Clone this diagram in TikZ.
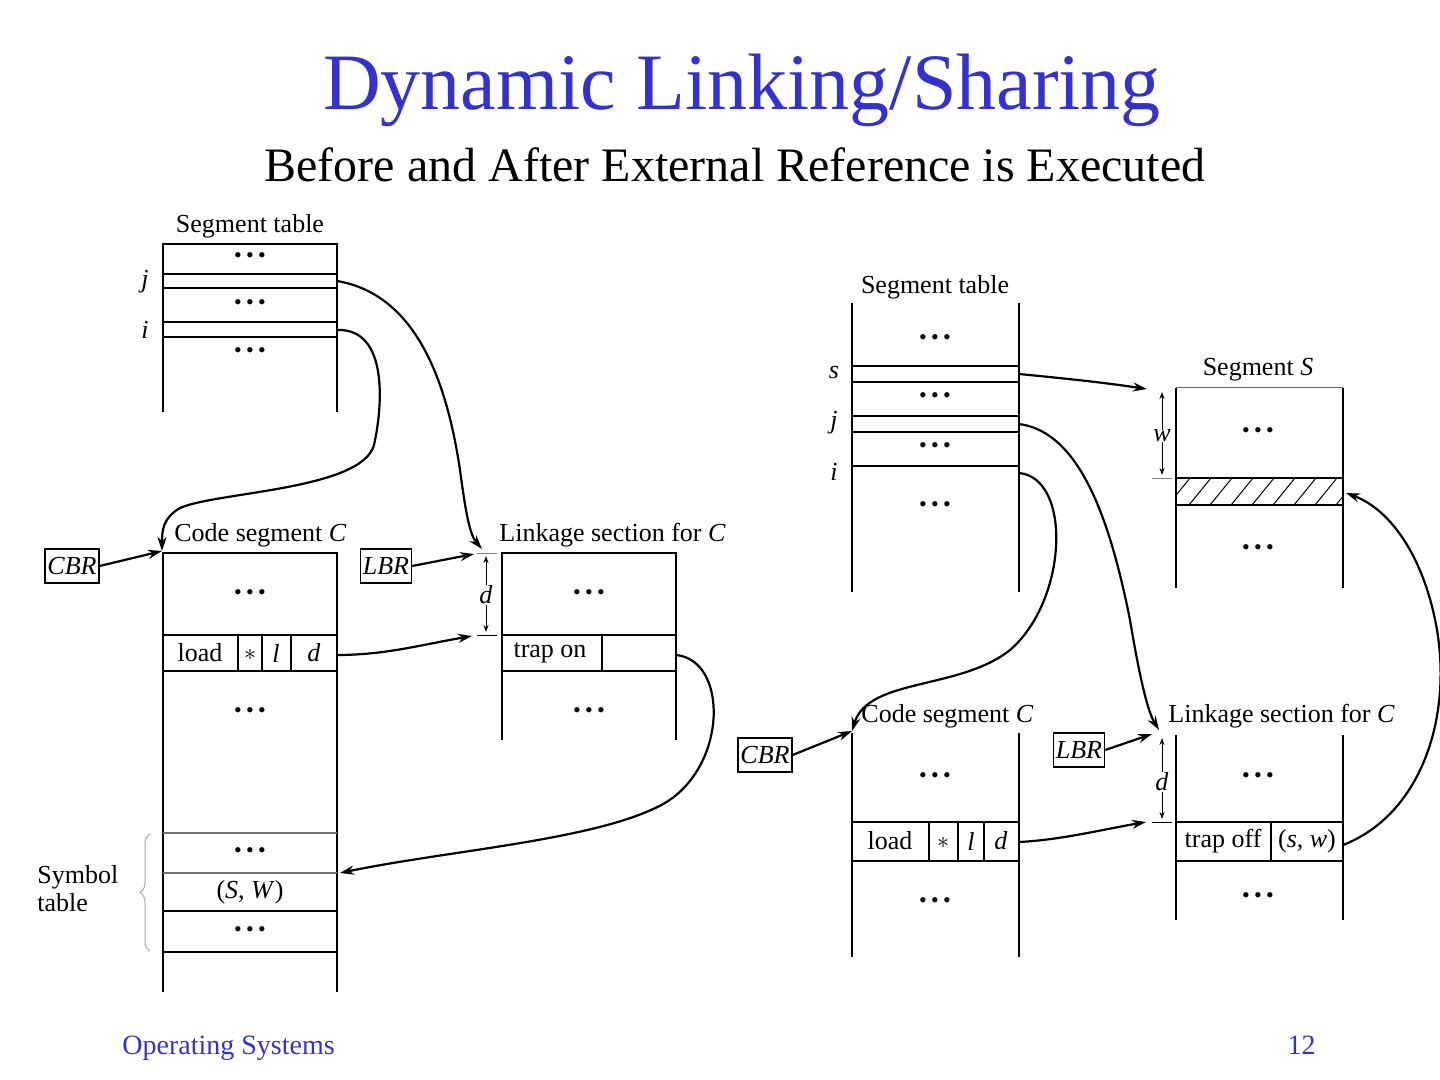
\documentclass[tikz,border=0pt]{standalone}
\usepackage{fontspec}
\setmainfont{Liberation Serif}
\usetikzlibrary{arrows.meta,decorations.pathreplacing}
\definecolor{titleblue}{RGB}{51,51,204}
\begin{document}
\begin{tikzpicture}[x=0.5pt,y=-0.5pt,
  tline/.style={line width=0.9pt},
  thin/.style={line width=0.5pt},
  conn/.style={line width=1.1pt,-{Stealth[length=7pt,width=4.5pt]}},
  dimarr/.style={line width=0.5pt,-{Stealth[length=3.5pt,width=2.5pt]}},
  lbl/.style={font=\fontsize{13}{14}\selectfont, inner sep=0pt},
  dots/.style={font=\fontsize{11}{11}\selectfont, inner sep=0pt},
  reg/.style={draw, line width=0.7pt, font=\fontsize{13}{13}\selectfont\itshape, inner sep=1.2pt, minimum height=17pt}
]
\useasboundingbox (0,0) rectangle (1440,1080);
\newcommand\ddd{\textbullet\kern2.2pt\textbullet\kern2.2pt\textbullet}

% titles
\node[anchor=base, text=titleblue, font=\fontsize{40}{40}\selectfont, inner sep=0pt] (title) at (742,110) {Dynamic Linking/Sharing};
\node[anchor=base, font=\fontsize{24}{24}\selectfont, inner sep=0pt] (subtitle) at (735,182) {Before and After External Reference is Executed};
\node[anchor=base west, text=titleblue, font=\fontsize{14}{14}\selectfont, inner sep=0pt] (foot) at (122,1054) {Operating Systems};
\node[anchor=base east, text=titleblue, font=\fontsize{14}{14}\selectfont, inner sep=0pt] (page) at (1316,1054) {12};

%================ LEFT =================
% segment table
\node[lbl] (st1) at (250,226) {Segment table};
\draw[tline] (163,412) -- (163,244) -- (337,244) -- (337,412);
\foreach \y in {274,288,322,337} \draw[tline] (163,\y) -- (337,\y);
\node[dots] (st1d1) at (250,258) {\ddd};
\node[dots] (st1d2) at (250,305) {\ddd};
\node[dots] (st1d3) at (250,353) {\ddd};
\node[lbl] (st1j) at (145,282) {\textit{j}};
\node[lbl] (st1i) at (145,330) {\textit{i}};
\coordinate (lj) at (337,281);
\coordinate (li) at (337,330);

% code segment
\node[lbl, anchor=west] (cs1) at (174,535) {Code segment \textit{C}};
\draw[tline] (163,992) -- (163,553) -- (337,553) -- (337,992);
\foreach \y in {635,671,911,952} \draw[tline] (163,\y) -- (337,\y);
\foreach \y in {833,873} \draw[tline, black!55] (163,\y) -- (337,\y);
\foreach \x in {238,262,291} \draw[tline] (\x,635) -- (\x,671);
\node[lbl] (ld1) at (200,653) {load};
\node[lbl] (as1) at (250,655) {$*$};
\node[lbl] (l1) at (276,653) {\textit{l}};
\node[lbl] (dd1) at (314,653) {\textit{d}};
\node[dots] (cs1d1) at (250,595) {\ddd};
\node[dots] (cs1d2) at (250,713) {\ddd};
\node[dots] (cs1d3) at (250,853) {\ddd};
\node[lbl] (sw1) at (250,892) {(\textit{S}, \textit{W})};
\node[dots] (cs1d4) at (250,932) {\ddd};
\node[lbl, anchor=west, align=left] (symt) at (37,889) {Symbol\\table};
\draw[thin, black!35, decorate, decoration={brace, amplitude=5pt}] (150,951) -- (150,834);
\coordinate (c1top) at (162,551);
\coordinate (c1sym) at (340,873);

% CBR / LBR
\node[reg] (cbr1) at (72,566) {CBR};
\node[reg] (lbr1) at (386,566) {LBR};

% linkage section
\node[lbl, anchor=west] (lk1) at (499,535) {Linkage section for \textit{C}};
\draw[tline] (502,740) -- (502,553) -- (676,553) -- (676,740);
\foreach \y in {635,671} \draw[tline] (502,\y) -- (676,\y);
\draw[tline] (602,635) -- (602,671);
\node[lbl] (trap1) at (550,653) {trap on};
\node[dots] (lk1d1) at (589,595) {\ddd};
\node[dots] (lk1d2) at (589,713) {\ddd};
\draw[thin, black!50] (477,553) -- (497,553);
\draw[thin] (477,635) -- (497,635);
\node[lbl] (dl1) at (486,595) {\textit{d}};
\draw[dimarr] (dl1.north) -- (486,556);
\draw[dimarr] (dl1.south) -- (486,632);
\coordinate (l1top) at (482,549);
\coordinate (l1tick) at (474,554);
\coordinate (l1d) at (472,636);
\coordinate (trap1r) at (676,655);

% left connectors
\draw[conn] (cbr1.east) -- (c1top);
\draw[conn] (lbr1.east) -- (l1tick);
\draw[conn] (li) .. controls (390,328) and (382,410) .. (374,445)
   .. controls (362,490) and (215,492) .. (180,508)
   .. controls (163,518) and (162,530) .. (c1top);
\draw[conn] (lj) .. controls (420,295) and (448,390) .. (460,470)
   .. controls (466,515) and (470,535) .. (l1top);
\draw[conn] (337,655) .. controls (385,655) and (420,645) .. (l1d);
\draw[conn] (trap1r) .. controls (728,660) and (728,765) .. (665,803)
   .. controls (600,840) and (450,850) .. (c1sym);

%================ RIGHT =================
% segment table
\node[lbl] (st2) at (935,287) {Segment table};
\draw[tline] (852,303) -- (852,592);
\draw[tline] (1019,303) -- (1019,592);
\foreach \y in {366,382,416,432,466} \draw[tline] (852,\y) -- (1019,\y);
\node[dots] (st2d1) at (935,340) {\ddd};
\node[dots] (st2d2) at (935,398) {\ddd};
\node[dots] (st2d3) at (935,448) {\ddd};
\node[dots] (st2d4) at (935,507) {\ddd};
\node[lbl] (st2s) at (834,373) {\textit{s}};
\node[lbl] (st2j) at (834,423) {\textit{j}};
\node[lbl] (st2i) at (834,472) {\textit{i}};
\coordinate (rs) at (1019,374);
\coordinate (rj) at (1019,424);
\coordinate (ri) at (1019,473);

% segment S
\node[lbl] (segS) at (1258,370) {Segment \textit{S}};
\draw[thin, black!60] (1176,388) -- (1343,388);
\draw[tline] (1176,388) -- (1176,588);
\draw[tline] (1343,388) -- (1343,588);
\begin{scope}
  \clip (1176,478) rectangle (1343,505);
  \foreach \k in {0,...,8} \draw[thin] (1168+21*\k,505) -- (1190+21*\k,478);
\end{scope}
\draw[tline] (1176,478) -- (1343,478);
\draw[tline] (1176,505) -- (1343,505);
\node[dots] (segSd1) at (1258,433) {\ddd};
\node[dots] (segSd2) at (1258,550) {\ddd};
\draw[thin, black!50] (1152,478) -- (1172,478);
\node[lbl] (wl) at (1162,436) {\textit{w}};
\draw[dimarr] (wl.north) -- (1162,392);
\draw[dimarr] (wl.south) -- (1162,475);
\coordinate (segSin) at (1147,389);
\coordinate (segSw) at (1346,493);

% code segment
\node[lbl, anchor=west] (cs2) at (861,716) {Code segment \textit{C}};
\draw[tline] (852,733) -- (852,957);
\draw[tline] (1019,733) -- (1019,957);
\foreach \y in {822,861} \draw[tline] (852,\y) -- (1019,\y);
\foreach \x in {929,958,984} \draw[tline] (\x,822) -- (\x,861);
\node[lbl] (ld2) at (890,841) {load};
\node[lbl] (as2) at (943,843) {$*$};
\node[lbl] (l2) at (971,841) {\textit{l}};
\node[lbl] (dd2) at (1001,841) {\textit{d}};
\node[dots] (cs2d1) at (935,778) {\ddd};
\node[dots] (cs2d2) at (935,903) {\ddd};
\coordinate (c2top) at (852,731);

\node[reg] (cbr2) at (765,755) {CBR};
\node[reg] (lbr2) at (1079,750) {LBR};

% linkage section
\node[lbl, anchor=west] (lk2) at (1168,716) {Linkage section for \textit{C}};
\draw[tline] (1176,735) -- (1176,920);
\draw[tline] (1343,735) -- (1343,920);
\foreach \y in {822,861} \draw[tline] (1176,\y) -- (1343,\y);
\draw[tline] (1271,822) -- (1271,861);
\node[lbl] (trap2) at (1223,841) {trap off};
\node[lbl] (sw2) at (1307,841) {(\textit{s}, \textit{w})};
\node[dots] (lk2d1) at (1258,778) {\ddd};
\node[dots] (lk2d2) at (1258,898) {\ddd};
\draw[thin] (1152,822) -- (1172,822);
\node[lbl] (dl2) at (1162,782) {\textit{d}};
\draw[dimarr] (dl2.north) -- (1162,738);
\draw[dimarr] (dl2.south) -- (1162,819);
\coordinate (l2top) at (1159,730);
\coordinate (l2tick) at (1152,734);
\coordinate (l2d) at (1146,822);
\coordinate (sw2r) at (1343,845);

% right connectors
\draw[conn] (rs) .. controls (1060,378) and (1100,382) .. (segSin);
\draw[conn] (cbr2.east) -- (c2top);
\draw[conn] (lbr2.east) -- (l2tick);
\draw[conn] (ri) .. controls (1072,478) and (1068,600) .. (1010,650)
   .. controls (960,690) and (868,678) .. (c2top);
\draw[conn] (rj) .. controls (1080,432) and (1110,520) .. (1130,620)
   .. controls (1140,680) and (1148,712) .. (l2top);
\draw[conn] (1019,842) .. controls (1060,840) and (1100,830) .. (l2d);
\draw[conn] (sw2r) .. controls (1420,815) and (1452,720) .. (1437,630)
   .. controls (1425,560) and (1392,510) .. (segSw);
\end{tikzpicture}
\end{document}
